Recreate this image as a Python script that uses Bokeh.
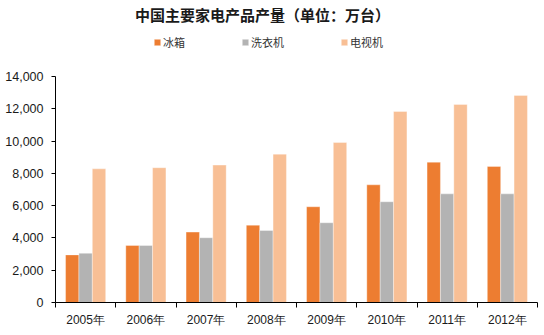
from bokeh.plotting import figure
from bokeh.models import (FixedTicker, NumeralTickFormatter, Legend, LegendItem, Label, Range1d)
from bokeh.embed import file_html
from bokeh.resources import INLINE

years = ["2005年", "2006年", "2007年", "2008年", "2009年", "2010年", "2011年", "2012年"]
fridge = [2950, 3530, 4360, 4790, 5930, 7290, 8690, 8430]
washer = [3050, 3530, 4010, 4460, 4940, 6240, 6730, 6730]
tv = [8280, 8350, 8510, 9190, 9910, 11830, 12270, 12830]
series_names = ["冰箱", "洗衣机", "电视机"]
colors = ["#ED7D31", "#B3B3B3", "#F8BF95"]

W, H = 544, 335
BOTTOM = 33          # px below the frame
FRAME_H = H - BOTTOM  # frame reaches canvas top; header lives inside it
AXIS_TOP_PX = 76      # canvas y where 14,000 sits
ymax_axis = 14000
y_end = ymax_axis * FRAME_H / (FRAME_H - AXIS_TOP_PX)

p = figure(width=W, height=H, output_backend="svg", toolbar_location=None,
           x_range=Range1d(0, len(years)), y_range=Range1d(0, y_end),
           min_border_left=55, min_border_right=7, min_border_top=0, min_border_bottom=BOTTOM,
           background_fill_color="white", border_fill_color="white", outline_line_color=None)
p.title = None
p.grid.grid_line_color = None

centers = [i + 0.5 for i in range(len(years))]
bw = 0.222
renderers = []
for k, (vals, c) in enumerate(zip([fridge, washer, tv], colors)):
    xs = [cx + (k - 1) * bw for cx in centers]
    r = p.vbar(x=xs, top=vals, width=bw, fill_color=c, line_color="white", line_alpha=0.35, line_width=1)
    renderers.append(r)

# x axis
xa = p.xaxis[0]
xa.ticker = FixedTicker(ticks=centers, minor_ticks=list(range(len(years) + 1)))
xa.major_label_overrides = {c: y for c, y in zip(centers, years)}
xa.major_tick_line_color = None
xa.minor_tick_line_color = "black"
xa.minor_tick_out = 5
xa.minor_tick_in = 0
xa.axis_line_color = "black"
xa.major_label_text_font = "Liberation Sans"
xa.major_label_text_font_size = "12px"
xa.major_label_text_color = "#1a1a1a"
xa.major_label_standoff = 4

ya = p.yaxis[0]
ya.ticker = FixedTicker(ticks=list(range(0, ymax_axis + 1, 2000)))
ya.formatter = NumeralTickFormatter(format="0,0")
ya.bounds = (0, ymax_axis)
ya.minor_tick_line_color = None
ya.major_tick_out = 4
ya.major_tick_in = 0
ya.axis_line_color = "black"
ya.major_label_text_font = "Liberation Sans"
ya.major_label_text_font_size = "12.5px"
ya.major_label_text_color = "#1a1a1a"
ya.major_label_standoff = 8

legend = Legend(items=[LegendItem(label=n, renderers=[r]) for n, r in zip(series_names, renderers)],
                orientation="horizontal", location=(98, 252), padding=0, margin=0,
                spacing=56, glyph_width=8, glyph_height=8, label_standoff=2,
                border_line_color=None, background_fill_alpha=0,
                label_text_font="Noto Sans CJK SC", label_text_font_size="11px",
                label_text_color="#333333", label_height=12)
p.add_layout(legend, "center")

title = Label(x=207, y=FRAME_H - 14, x_units="screen", y_units="screen",
              text="中国主要家电产品产量（单位：万台）", text_align="center", text_baseline="middle",
              text_font="Noto Sans CJK SC", text_font_size="15px", text_font_style="bold",
              text_color="#1a1a1a")
p.add_layout(title)

open("out.html", "w").write(file_html(p, INLINE))
